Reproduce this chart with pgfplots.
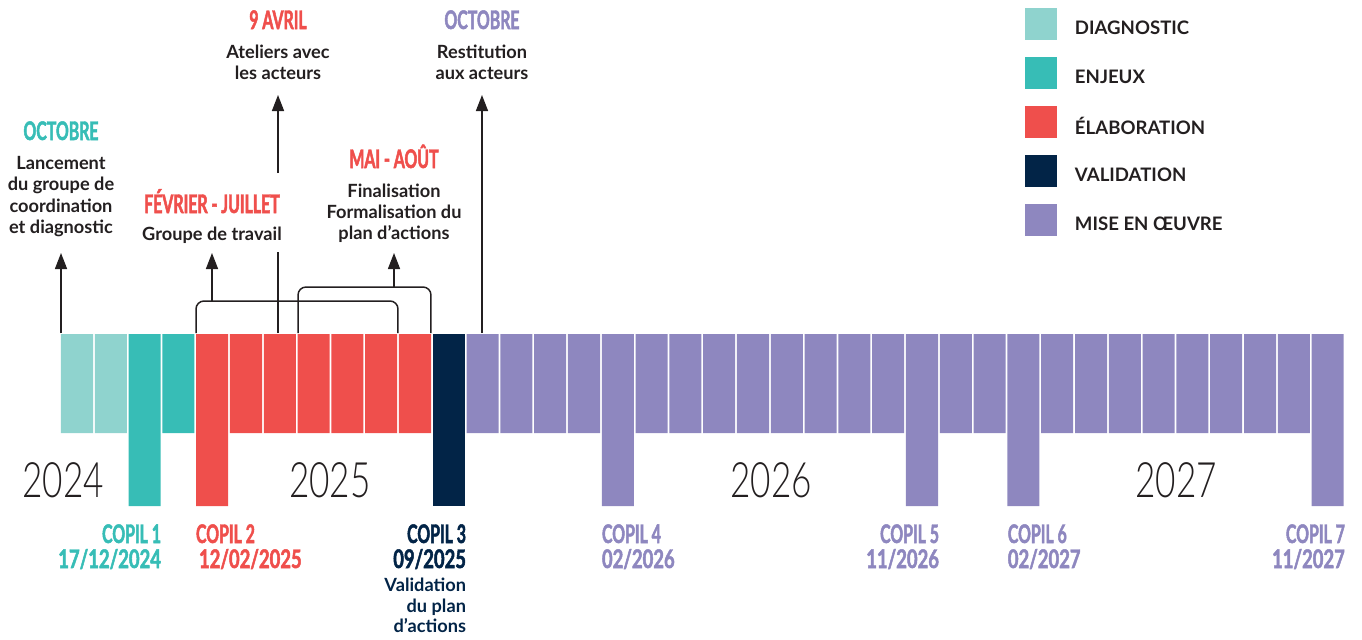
\documentclass[border=0pt]{standalone}
\usepackage{pgfplots}
\pgfplotsset{compat=1.18}
\usetikzlibrary{arrows.meta}
\usepackage{fontspec}
\setmainfont{Lato}
\newfontfamily\cond[FakeStretch=0.62,FakeBold=1.9]{Lato}
\newfontfamily\condd[FakeStretch=0.72,FakeBold=1.9]{Lato}
\IfFontExistsTF{Lato Light}{\newfontfamily\yearfont[FakeStretch=0.72]{Lato Light}}{\newfontfamily\yearfont[FakeStretch=0.72]{Lato}}
\definecolor{diag}{HTML}{8FD3CE}
\definecolor{enj}{HTML}{37BDB6}
\definecolor{elab}{HTML}{EF4F4C}
\definecolor{valid}{HTML}{022447}
\definecolor{mise}{HTML}{8E87BF}
\definecolor{ink}{HTML}{231F20}
\newcommand\bodyf{\bfseries\fontsize{9.1pt}{11pt}\selectfont}
\newcommand\headf{\cond\bfseries\fontsize{12.8pt}{14pt}\selectfont}
\newcommand\datef{\condd\bfseries\fontsize{12.8pt}{14pt}\selectfont}
\newcommand\yearf{\yearfont\fontsize{24.4pt}{28pt}\selectfont}
\newcommand\legf{\bfseries\fontsize{9.3pt}{11pt}\selectfont}
\newcommand\lbl[5]{\node[anchor=#1, inner sep=0pt, outer sep=0pt, text=#2, font=#3] at (axis cs:#4) {#5};}
\begin{document}
\begin{tikzpicture}
\begin{axis}[
  scale only axis, width=681pt, height=319.5pt,
  xmin=-1.778, xmax=38.518, ymin=-334, ymax=305, y dir=reverse,
  hide axis, clip=false,
  legend style={at={(axis cs:28.547,-326)}, anchor=north west, draw=none, fill=none,
    inner sep=0pt, outer sep=0pt, row sep=8.5pt, column sep=9pt,
    nodes={inner sep=0pt, font=\legf, text=ink}},
  legend cell align=left,
  mybar/.style={ybar, bar width=0.947, bar shift=0pt, draw=none,
    legend image code/.code={\fill[##1] (0pt,-5.5pt) rectangle (16pt,10.5pt);}},
]
% months: 0 = Oct 2024 ... 37 = Nov 2027 ; value = bar depth (99 normal, 172 COPIL)
\addplot[mybar, fill=diag] coordinates {(0.5,99) (1.5,99)};
\addlegendentry{DIAGNOSTIC}
\addplot[mybar, fill=enj] coordinates {(2.5,172) (3.5,99)};
\addlegendentry{ENJEUX}
\addplot[mybar, fill=elab] coordinates {(4.5,172) (5.5,99) (6.5,99) (7.5,99) (8.5,99) (9.5,99) (10.5,99)};
\addlegendentry{ÉLABORATION}
\addplot[mybar, fill=valid] coordinates {(11.5,172)};
\addlegendentry{VALIDATION}
\addplot[mybar, fill=mise] coordinates {(12.5,99) (13.5,99) (14.5,99) (15.5,99) (16.5,172) (17.5,99) (18.5,99) (19.5,99) (20.5,99) (21.5,99) (22.5,99) (23.5,99) (24.5,99) (25.5,172) (26.5,99) (27.5,99) (28.5,172) (29.5,99) (30.5,99) (31.5,99) (32.5,99) (33.5,99) (34.5,99) (35.5,99) (36.5,99) (37.5,172)};
\addlegendentry{MISE EN ŒUVRE}

% keep the whole frame as the picture's extent
\path (rel axis cs:0,0) rectangle (rel axis cs:1,1);

% connectors
\draw[ink, line width=0.75pt, -{Triangle[width=6pt,length=8pt]}] (axis cs:0.027,-1) -- (axis cs:0.027,-81);
\draw[ink, line width=0.75pt, rounded corners=4pt] (axis cs:4.021,-1) |- (axis cs:9.997,-33) -- (axis cs:9.997,-1);
\draw[ink, line width=0.75pt, -{Triangle[width=6pt,length=8pt]}] (axis cs:4.494,-33) -- (axis cs:4.494,-81);
\draw[ink, line width=0.75pt, rounded corners=4pt] (axis cs:7.039,-1) |- (axis cs:10.973,-47) -- (axis cs:10.973,-1);
\draw[ink, line width=0.75pt, -{Triangle[width=6pt,length=8pt]}] (axis cs:9.879,-47) -- (axis cs:9.879,-81);
\draw[ink, line width=0.75pt] (axis cs:6.447,-1) -- (axis cs:6.447,-82);
\draw[ink, line width=0.75pt, -{Triangle[width=6pt,length=8pt]}] (axis cs:6.447,-161) -- (axis cs:6.447,-239);
\draw[ink, line width=0.75pt, -{Triangle[width=6pt,length=8pt]}] (axis cs:12.482,-1) -- (axis cs:12.482,-239);

% upper annotations
\lbl{base}{enj}{\headf}{0.027,-194}{OCTOBRE}
\lbl{base}{ink}{\bodyf}{0.027,-165}{Lancement}
\lbl{base}{ink}{\bodyf}{0.027,-143.5}{du groupe de}
\lbl{base}{ink}{\bodyf}{0.027,-122}{coordination}
\lbl{base}{ink}{\bodyf}{0.027,-100.5}{et diagnostic}
\lbl{base}{elab}{\headf}{4.494,-121}{FÉVRIER - JUILLET}
\lbl{base}{ink}{\bodyf}{4.494,-94}{Groupe de travail}
\lbl{base}{elab}{\headf}{6.447,-305}{9 AVRIL}
\lbl{base}{ink}{\bodyf}{6.447,-276}{Ateliers avec}
\lbl{base}{ink}{\bodyf}{6.447,-255}{les acteurs}
\lbl{base}{elab}{\headf}{9.879,-166}{MAI - AOÛT}
\lbl{base}{ink}{\bodyf}{9.879,-137}{Finalisation}
\lbl{base}{ink}{\bodyf}{9.879,-116}{Formalisation du}
\lbl{base}{ink}{\bodyf}{9.879,-95}{plan d’actions}
\lbl{base}{mise}{\headf}{12.482,-305}{OCTOBRE}
\lbl{base}{ink}{\bodyf}{12.482,-276}{Restitution}
\lbl{base}{ink}{\bodyf}{12.482,-255}{aux acteurs}

% years
\lbl{base}{ink}{\yearf}{0.086,163}{2024}
\lbl{base}{ink}{\yearf}{7.985,163}{2025}
\lbl{base}{ink}{\yearf}{21.033,163}{2026}
\lbl{base}{ink}{\yearf}{33.015,163}{2027}

% COPIL labels
\lbl{base east}{enj}{\headf}{2.985,209}{COPIL 1}
\lbl{base east}{enj}{\datef}{2.985,234}{17/12/2024}
\lbl{base west}{elab}{\headf}{4.021,209}{COPIL 2}
\lbl{base west}{elab}{\datef}{4.11,234}{12/02/2025}
\lbl{base east}{valid}{\headf}{12.009,209}{COPIL 3}
\lbl{base east}{valid}{\datef}{12.009,234}{09/2025}
\lbl{base east}{valid}{\bodyf}{12.009,257}{Validation}
\lbl{base east}{valid}{\bodyf}{12.009,278}{du plan}
\lbl{base east}{valid}{\bodyf}{12.009,298}{d’actions}
\lbl{base west}{mise}{\headf}{16.032,209}{COPIL 4}
\lbl{base west}{mise}{\datef}{16.032,234}{02/2026}
\lbl{base east}{mise}{\headf}{26.003,209}{COPIL 5}
\lbl{base east}{mise}{\datef}{26.003,234}{11/2026}
\lbl{base west}{mise}{\headf}{28.04,209}{COPIL 6}
\lbl{base west}{mise}{\datef}{28.04,234}{02/2027}
\lbl{base east}{mise}{\headf}{38.01,209}{COPIL 7}
\lbl{base east}{mise}{\datef}{38.01,234}{11/2027}
\end{axis}
\end{tikzpicture}
\end{document}
